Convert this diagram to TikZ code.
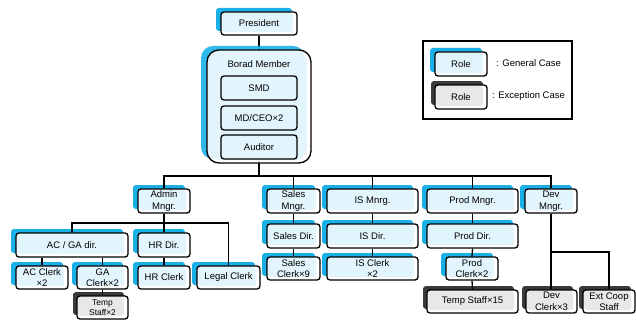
\documentclass[tikz,border=0pt]{standalone}
\usepackage{fontspec}
\setmainfont{Liberation Sans}
\usetikzlibrary{shadows}
\definecolor{shadeblue}{HTML}{19B0E8}
\definecolor{boxblue}{HTML}{E3F5FC}
\definecolor{boxgray}{HTML}{E8E8E8}
\definecolor{shadegray}{HTML}{3A3A3A}
\tikzset{
  card/.style={draw=black, line width=1.3pt, rounded corners=3pt, fill=white,
    inner sep=0pt, align=center, font=\fontsize{9.5}{11.5}\selectfont},
  inset/.style={path picture={\fill[#1]
      ([shift={(1pt,-1pt)}]path picture bounding box.north west) rectangle
      ([shift={(-4pt,3pt)}]path picture bounding box.south east);}},
  rolebox/.style={card, inset=boxblue,
    general shadow={fill=shadeblue, shadow xshift=-5pt, shadow yshift=4pt}},
  extrabox/.style={card, inset=boxgray,
    general shadow={fill=shadegray, shadow xshift=-4pt, shadow yshift=4pt}},
  seat/.style={card, fill=boxblue},
  link/.style={draw=black, line width=1.3pt},
}
\begin{document}
\begin{tikzpicture}[x=1pt, y=-1pt]
\useasboundingbox (0,0) rectangle (636,321);

% top of the chart
\node[rolebox, minimum width=76pt, minimum height=23pt] (pres) at (259,23.5) {President};
\coordinate (bus) at (259,176);
\draw[link] (pres.south) -- (bus);
\node[card, rounded corners=12pt, fill opacity=0.9, text opacity=1, inset=boxblue,
      general shadow={fill=shadeblue, shadow xshift=-6pt, shadow yshift=4pt},
      minimum width=104pt, minimum height=113pt] (board) at (259,106.5) {};
\node[font=\fontsize{9.5}{11.5}\selectfont] (boardtitle) at (259,64) {Borad Member};
\node[seat, minimum width=76pt, minimum height=24pt] (smd) at (259,88) {SMD};
\node[seat, minimum width=76pt, minimum height=24pt] (mdceo) at (259,118) {MD/CEO×2};
\node[seat, minimum width=76pt, minimum height=24pt] (auditor) at (259,147) {Auditor};

% managers
\node[rolebox, minimum width=52pt, minimum height=24pt] (admin) at (164,201) {Admin\\Mngr.};
\node[rolebox, minimum width=53pt, minimum height=24pt] (sales) at (293.5,201) {Sales\\Mngr.};
\node[rolebox, minimum width=91pt, minimum height=24pt] (is) at (372.5,201) {IS Mnrg.};
\node[rolebox, minimum width=91pt, minimum height=24pt] (prod) at (472.5,201) {Prod Mngr.};
\node[rolebox, minimum width=52pt, minimum height=24pt] (dev) at (551,201) {Dev\\Mngr.};

% directors
\node[rolebox, minimum width=112pt, minimum height=24pt] (acga) at (72,245) {AC / GA dir.};
\node[rolebox, minimum width=52pt, minimum height=24pt] (hrdir) at (164,245) {HR Dir.};
\node[rolebox, minimum width=53pt, minimum height=24pt] (salesdir) at (293.5,236) {Sales Dir.};
\node[rolebox, minimum width=91pt, minimum height=24pt] (isdir) at (372.5,236) {IS Dir.};
\node[rolebox, minimum width=91pt, minimum height=24pt] (proddir) at (472.5,236) {Prod Dir.};

% clerks
\node[rolebox, minimum width=52pt, minimum height=23pt] (acclerk) at (42,277.5) {AC Clerk\\×2};
\node[rolebox, minimum width=51pt, minimum height=23pt] (gaclerk) at (102.5,277.5) {GA\\Clerk×2};
\node[rolebox, minimum width=52pt, minimum height=23pt] (hrclerk) at (164,277.5) {HR Clerk};
\node[rolebox, minimum width=63pt, minimum height=23pt] (legal) at (228.5,277.5) {Legal Clerk};
\node[rolebox, minimum width=53pt, minimum height=23pt] (salesclerk) at (293.5,268.5) {Sales\\Clerk×9};
\node[rolebox, minimum width=91pt, minimum height=23pt] (isclerk) at (372.5,268.5) {IS Clerk\\×2};
\node[rolebox, minimum width=52pt, minimum height=23pt] (prodclerk) at (472,268.5) {Prod\\Clerk×2};

% exception cases
\node[extrabox, minimum width=51pt, minimum height=23pt, font=\fontsize{8.4}{10.5}\selectfont] (temp2) at (102.5,307.5) {Temp\\Staff×2};
\node[extrabox, minimum width=91pt, minimum height=23pt] (temp15) at (472.5,301.5) {Temp Staff×15};
\node[extrabox, minimum width=51pt, minimum height=23pt] (devclerk) at (551.5,301.5) {Dev\\Clerk×3};
\node[extrabox, minimum width=52pt, minimum height=23pt] (extcoop) at (609,301.5) {Ext Coop\\Staff};

% connectors
\draw[link] (admin.north) |- (bus) -| (dev.north);
\draw[link] (sales.north) -- (sales.north |- bus);
\draw[link] (is.north) -- (is.north |- bus);
\draw[link] (prod.north) -- (prod.north |- bus);

\coordinate (abus) at (164,223);
\draw[link] (admin.south) -- (abus);
\draw[link] (acga.north) |- (abus) -| (legal.north);
\draw[link] (hrdir.north) -- (abus);
\draw[link] (hrdir.south) -- (hrclerk.north);
\draw[link] (acclerk.north) -- (acclerk.north |- acga.south);
\draw[link] (gaclerk.north) -- (gaclerk.north |- acga.south);
\draw[link] (gaclerk.south) -- (temp2.north);

\draw[link] (sales.south) -- (salesdir.north);
\draw[link] (salesdir.south) -- (salesclerk.north);
\draw[link] (is.south) -- (isdir.north);
\draw[link] (isdir.south) -- (isclerk.north);
\draw[link] (prod.south) -- (proddir.north);
\draw[link] (proddir.south) -- (prodclerk.north);
\draw[link] (prodclerk.south) -- (temp15.north);

\coordinate (dbus) at (551,252);
\draw[link] (dev.south) -- (devclerk.north -| dev.south);
\draw[link] (dbus) -| (extcoop.north);

% legend
\node[draw=black, line width=1.3pt, minimum width=149pt, minimum height=78pt, inner sep=0pt] (legend) at (497.5,80) {};
\node[rolebox, minimum width=52pt, minimum height=24pt] (role1) at (461,64) {Role};
\node[extrabox, minimum width=52pt, minimum height=24pt] (role2) at (461,97) {Role};
\node[anchor=west, inner sep=0pt, font=\fontsize{9.5}{11.5}\selectfont] (gentext) at (496,63.5) {: General Case};
\node[anchor=west, inner sep=0pt, font=\fontsize{9.5}{11.5}\selectfont] (exctext) at (492,96.5) {: Exception Case};
\end{tikzpicture}
\end{document}
